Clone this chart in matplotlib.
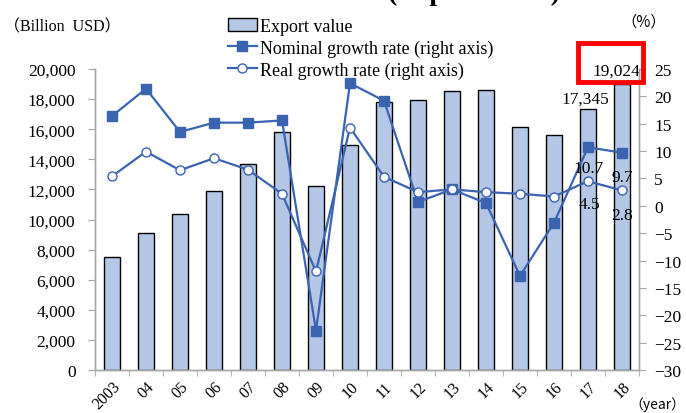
import matplotlib
matplotlib.use('Agg')
import matplotlib.pyplot as plt
from matplotlib.patches import Rectangle
from matplotlib.ticker import FuncFormatter, MultipleLocator
import numpy as np

plt.rcParams['font.family'] = ['Liberation Serif', 'Noto Sans CJK JP']

# data
years = ['2003', '04', '05', '06', '07', '08', '09', '10',
         '11', '12', '13', '14', '15', '16', '17', '18']
export_value = [7490, 9080, 10340, 11870, 13670, 15840, 12210, 14970,
                17830, 17960, 18520, 18580, 16170, 15620, 17345, 19024]
nominal_growth = [16.4, 21.4, 13.5, 15.2, 15.2, 15.6, -22.8, 22.4,
                  19.2, 0.7, 3.0, 0.5, -12.8, -3.1, 10.7, 9.7]
real_growth = [5.4, 9.9, 6.5, 8.7, 6.6, 2.2, -12.0, 14.3,
               5.3, 2.5, 3.0, 2.5, 2.2, 1.7, 4.5, 2.8]

bar_color = '#B4C7E7'
line_color = '#3A63B0'
spine_color = '#A6A6A6'

fig = plt.figure(figsize=(6.86, 4.14), dpi=100)
ax = fig.add_axes([95 / 686, 1 - 371 / 414, 544 / 686, 301 / 414])
ax2 = ax.twinx()

x = np.arange(len(years))
bars = ax.bar(x, export_value, width=0.47, color=bar_color,
              edgecolor='black', linewidth=1.0, label='Export value', zorder=2)

ax2.plot(x, nominal_growth, color=line_color, lw=1.6, marker='s', ms=7.5,
         mfc=line_color, mec=line_color, label='Nominal growth rate (right axis)', zorder=3)
ax2.plot(x, real_growth, color=line_color, lw=1.6, marker='o', ms=6.5,
         mfc='white', mec=line_color, mew=1.0, label='Real growth rate (right axis)', zorder=4)

# axes ranges and ticks
ax.set_xlim(-0.5, len(years) - 0.5)
ax.set_ylim(0, 20000)
ax.yaxis.set_major_locator(MultipleLocator(2000))
ax.yaxis.set_major_formatter(FuncFormatter(lambda v, p: f'{int(v):,}'))
ax2.set_ylim(-30, 25)
ax2.yaxis.set_major_locator(MultipleLocator(5))

ax.set_xticks(x)
ax.set_xticklabels(years, rotation=45, ha='right', rotation_mode='anchor', fontsize=11.5)
ax.set_xticks(np.arange(-0.5, len(years), 1), minor=True)
ax.tick_params(axis='x', which='major', length=0, pad=6)
ax.tick_params(axis='x', which='minor', length=4, color=spine_color, direction='out')
ax.tick_params(axis='y', labelsize=12.5, length=5, color=spine_color, pad=9)
ax2.tick_params(axis='y', labelsize=12.5, length=5, color=spine_color, pad=6)

for a in (ax, ax2):
    a.spines['top'].set_visible(False)
    for s in ('left', 'right', 'bottom'):
        a.spines[s].set_color(spine_color)
        a.spines[s].set_linewidth(1.0)

# data labels
ax.annotate('17,345', (x[14], export_value[14]), textcoords='offset pixels',
            xytext=(-3, 2), ha='center', va='bottom', fontsize=12.5)
ax.annotate('19,024', (x[15], export_value[15]), textcoords='offset pixels',
            xytext=(-6, 13), ha='center', va='center', fontsize=12.5)
ax2.annotate('10.7', (x[14], nominal_growth[14]), textcoords='offset pixels',
             xytext=(1, -21), ha='center', va='center', fontsize=12.5)
ax2.annotate('9.7', (x[15], nominal_growth[15]), textcoords='offset pixels',
             xytext=(0, -24), ha='center', va='center', fontsize=12.5)
ax2.annotate('4.5', (x[14], real_growth[14]), textcoords='offset pixels',
             xytext=(1, -23), ha='center', va='center', fontsize=12.5)
ax2.annotate('2.8', (x[15], real_growth[15]), textcoords='offset pixels',
             xytext=(0, -25), ha='center', va='center', fontsize=12.5)

# red highlight box around the 2018 value
fig.add_artist(Rectangle((578 / 686, 1 - 83 / 414), 65 / 686, 39 / 414,
                         transform=fig.transFigure, fill=False,
                         edgecolor='#FF0000', linewidth=3.5, zorder=10))

# legend
handles = [bars] + ax2.get_lines()
labels = [h.get_label() for h in handles]
fig.legend(handles, labels, loc='upper left', bbox_to_anchor=(228 / 686, 1 - 19 / 414),
           frameon=False, fontsize=13, handlelength=1.6, handletextpad=0.2,
           labelspacing=0.25, borderpad=0, borderaxespad=0)

# unit labels
fig.text(4 / 686, 1 - 27 / 414, '（Billion  USD）', fontsize=11.5, va='center', ha='left')
fig.text(644 / 686, 1 - 22 / 414, '（%）', fontsize=11, va='center', ha='center',
         family=['Noto Sans CJK JP'])
fig.text(685 / 686, 1 - 405 / 414, '（year）', fontsize=10, va='center', ha='right',
         family=['Noto Sans CJK JP'])

# title, cut off at the top edge in the reference
fig.text(388 / 686, 1 - 0.5 / 414, '(Export value)', fontsize=20, fontweight='bold',
         va='baseline', ha='left')

fig.savefig('out.png', dpi=100)
